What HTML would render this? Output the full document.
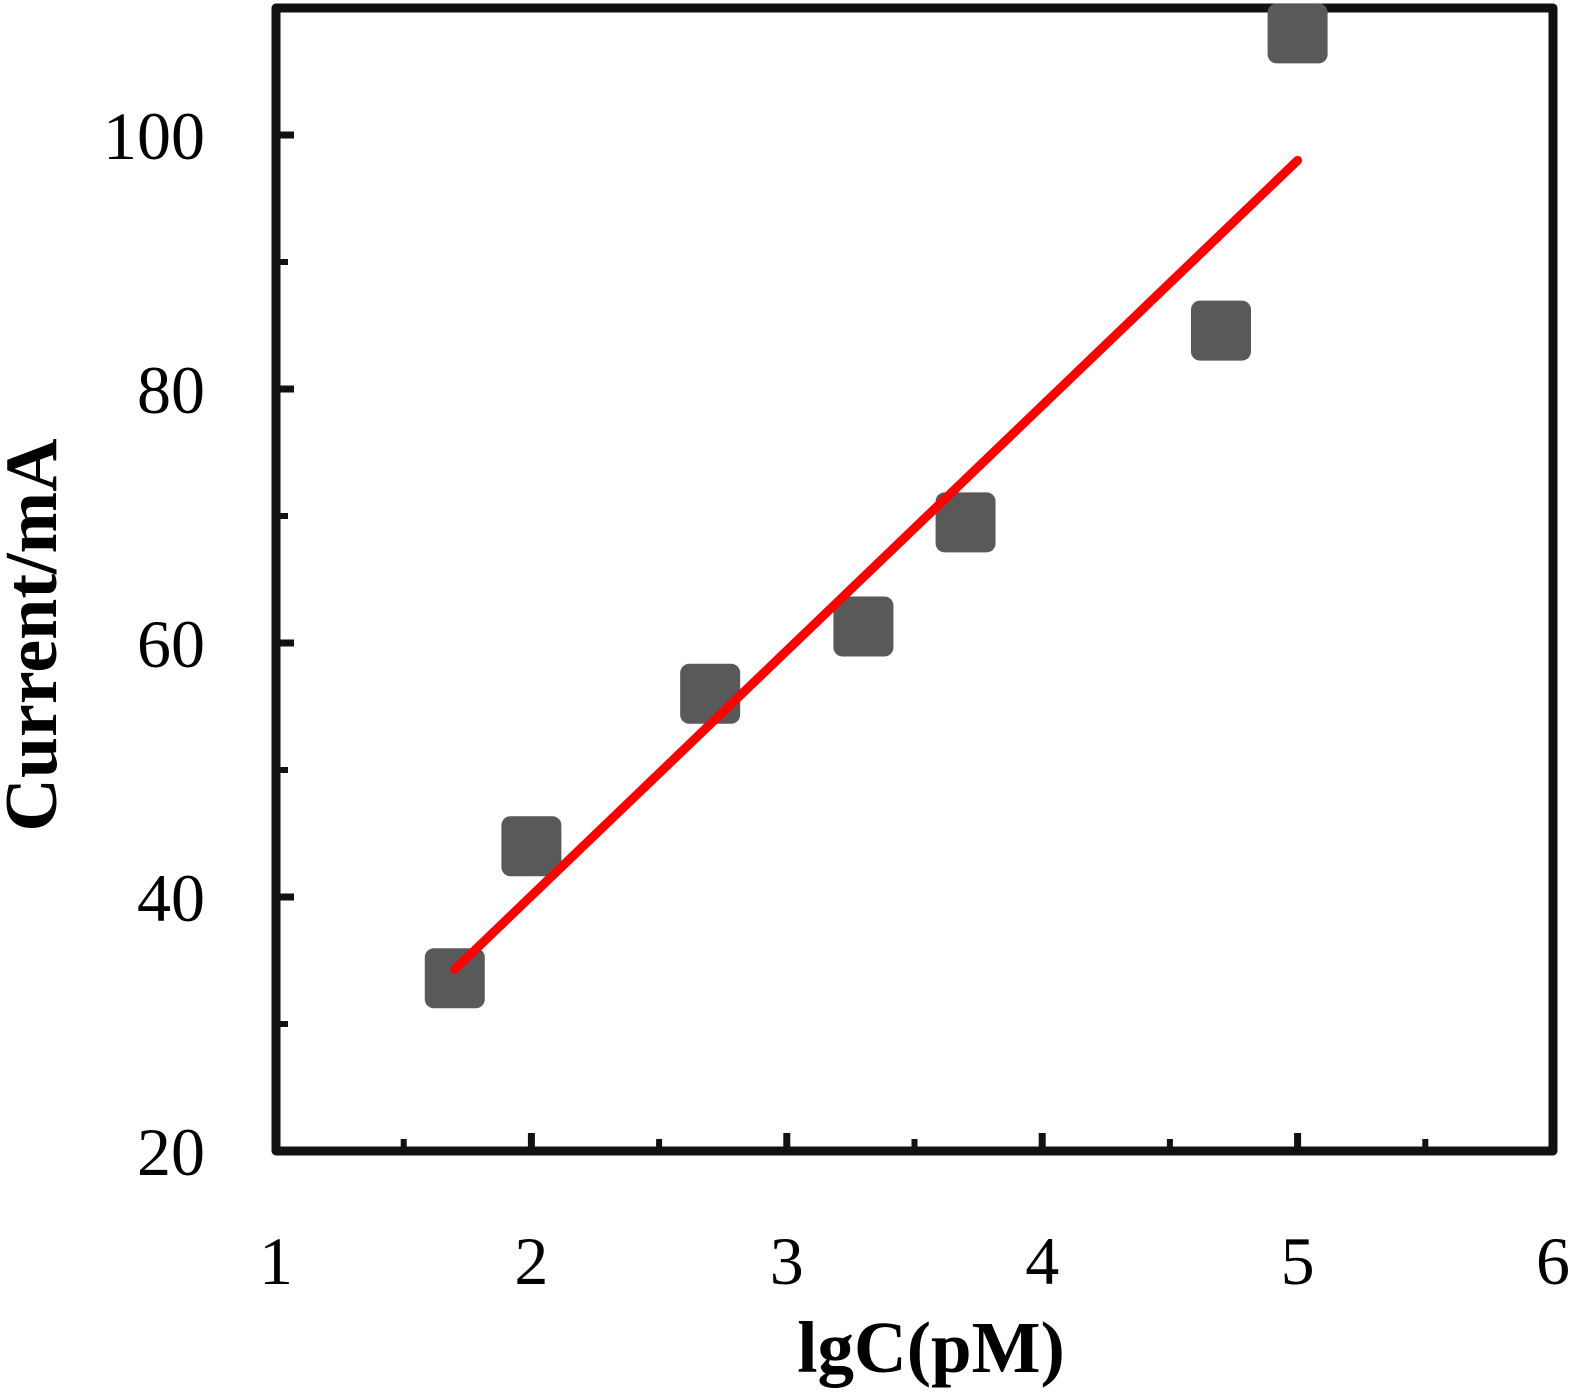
<!DOCTYPE html>
<html><head><meta charset="utf-8"><style>
body{margin:0;background:#fff;}
svg{display:block;}
text{font-family:"Liberation Serif",serif;fill:#000;}
</style></head><body>
<svg id="chart" width="1575" height="1395">
<g id="plot"></g>
</svg>
<script>
const xVals=[1.7,2.0,2.7,3.3,3.7,4.7,5.0];
const yVals=[33.6,44.0,56.0,61.3,69.5,84.6,108.0];
const fitX=[1.7,5.0];
const fitY=[34.3,98.0];
const xTicks=[1,2,3,4,5,6];
const yTicks=[20,40,60,80,100];
const yMinor=[30,50,70,90];
const xMinor=[1.5,2.5,3.5,4.5,5.5];
const X0=276,X1=1553,Y0=1151,Y1=8;
const xs=v=>X0+(v-1)/5*(X1-X0);
const ys=v=>Y0-(v-20)/(100-20)*(1151-135);
const NS='http://www.w3.org/2000/svg';
const g=document.getElementById('plot');
function mk(t,a){const e=document.createElementNS(NS,t);for(const k in a)e.setAttribute(k,a[k]);g.appendChild(e);return e;}
let fr=mk('rect',{x:X0,y:Y1,width:X1-X0,height:Y0-Y1,fill:'none',stroke:'#111','stroke-width':9,'stroke-linejoin':'round'});


xTicks.forEach(v=>{
 if(v>1&&v<6){let t=mk('line',{x1:xs(v),x2:xs(v),y1:Y0,y2:Y0-18,stroke:'#111','stroke-width':7});
 
 }
 let l=mk('text',{x:xs(v),y:1284,'font-size':68,'text-anchor':'middle'});l.textContent=v;
 
 
});
xMinor.forEach(v=>{let t=mk('line',{x1:xs(v),x2:xs(v),y1:Y0,y2:Y0-12,stroke:'#111','stroke-width':6});
 
 });
yTicks.forEach(v=>{
 if(v>20){let t=mk('line',{x1:X0,x2:X0+18,y1:ys(v),y2:ys(v),stroke:'#111','stroke-width':7});
 
 }
 let l=mk('text',{x:205,y:ys(v)+24,'font-size':68,'text-anchor':'end'});l.textContent=v;
 
 
});
yMinor.forEach(v=>{let t=mk('line',{x1:X0,x2:X0+12,y1:ys(v),y2:ys(v),stroke:'#111','stroke-width':6});
 
 });
xVals.forEach((v,i)=>{let r=mk('rect',{x:xs(v)-30,y:ys(yVals[i])-30,width:60,height:60,rx:9,fill:'#595959'});
 
 });
let fl=mk('line',{x1:xs(fitX[0]),y1:ys(fitY[0]),x2:xs(fitX[1]),y2:ys(fitY[1]),stroke:'#ff0000','stroke-width':9,'stroke-linecap':'round'});


let xt=mk('text',{x:931,y:1372,'font-size':73,'font-weight':'bold','text-anchor':'middle'});xt.textContent='lgC(pM)';


let yt=mk('text',{x:0,y:0,'font-size':74,'font-weight':'bold','text-anchor':'middle',transform:'translate(56,635) rotate(-90)'});yt.textContent='Current/mA';


</script>
</body></html>
